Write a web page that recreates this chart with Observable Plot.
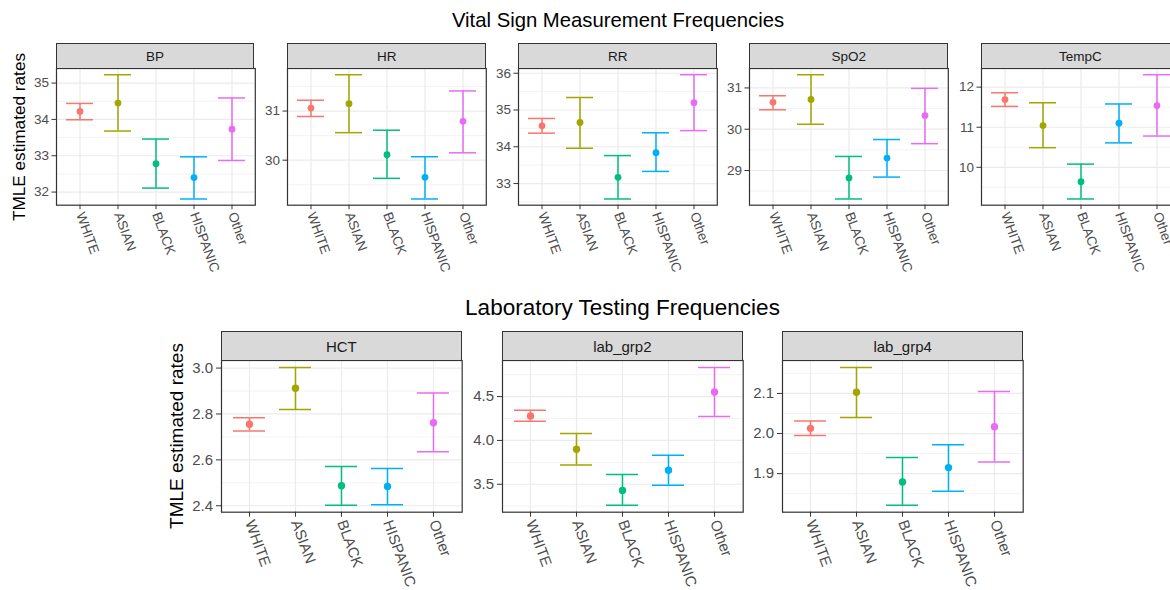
<!DOCTYPE html>
<html><head><meta charset="utf-8">
<script src="https://cdn.jsdelivr.net/npm/d3@7"></script>
<script src="https://cdn.jsdelivr.net/npm/@observablehq/plot@0.6"></script>
<style>
body{margin:0;background:#fff;}
#root{position:relative;width:1170px;height:590px;overflow:hidden;background:#fff;font-family:"Liberation Sans",Arial,Helvetica,sans-serif;}
.strip{position:absolute;box-sizing:border-box;background:#D9D9D9;border:1.2px solid #333;display:flex;align-items:center;justify-content:center;color:#1A1A1A;}
.ttl{position:absolute;color:#000;white-space:nowrap;}
</style></head><body><div id="root"></div>
<script>
// ---- data ----
const races = ["WHITE", "ASIAN", "BLACK", "HISPANIC", "Other"];
const raceColors = ["#F8766D", "#A3A500", "#00BF7D", "#00B0F6", "#E76BF3"];

const vitalNames = ["BP", "HR", "RR", "SpO2", "TempC"];
const labNames = ["HCT", "lab_grp2", "lab_grp4"];

const bpEst = [34.22, 34.45, 32.78, 32.40, 33.73];
const bpLo  = [33.99, 33.68, 32.11, 31.81, 32.87];
const bpHi  = [34.44, 35.23, 33.46, 32.97, 34.59];
const bpTicks = [32, 33, 34, 35];

const hrEst = [31.06, 31.15, 30.11, 29.65, 30.79];
const hrLo  = [30.89, 30.56, 29.63, 29.21, 30.15];
const hrHi  = [31.22, 31.74, 30.61, 30.07, 31.41];
const hrTicks = [30, 31];

const rrEst = [34.57, 34.66, 33.17, 33.84, 35.20];
const rrLo  = [34.37, 33.96, 32.58, 33.33, 34.44];
const rrHi  = [34.77, 35.34, 33.76, 34.38, 35.96];
const rrTicks = [33, 34, 35, 36];

const spo2Est = [30.65, 30.72, 28.82, 29.30, 30.33];
const spo2Lo  = [30.47, 30.12, 28.31, 28.84, 29.65];
const spo2Hi  = [30.81, 31.32, 29.34, 29.75, 30.99];
const spo2Ticks = [29, 30, 31];

const tempEst = [11.69, 11.04, 9.64, 11.10, 11.54];
const tempLo  = [11.52, 10.49, 9.21, 10.61, 10.78];
const tempHi  = [11.86, 11.61, 10.08, 11.58, 12.31];
const tempTicks = [10, 11, 12];

const hctEst = [2.755, 2.912, 2.487, 2.484, 2.762];
const hctLo  = [2.726, 2.819, 2.402, 2.404, 2.635];
const hctHi  = [2.784, 3.003, 2.571, 2.562, 2.891];
const hctTicks = [2.4, 2.6, 2.8, 3.0];

const lab2Est = [4.28, 3.90, 3.43, 3.66, 4.553];
const lab2Lo  = [4.22, 3.72, 3.26, 3.49, 4.273];
const lab2Hi  = [4.344, 4.08, 3.61, 3.83, 4.833];
const lab2Ticks = [3.5, 4.0, 4.5];

const lab4Est = [2.013, 2.103, 1.879, 1.915, 2.017];
const lab4Lo  = [1.995, 2.040, 1.821, 1.856, 1.929];
const lab4Hi  = [2.031, 2.165, 1.940, 1.972, 2.105];
const lab4Ticks = [1.9, 2.0, 2.1];

const vitalTitle = "Vital Sign Measurement Frequencies";
const labTitle = "Laboratory Testing Frequencies";
const yTitle = "TMLE estimated rates";

// ---- drawing ----
const root = document.getElementById("root");

function addText(txt, css) {
  const d = document.createElement("div");
  d.className = "ttl";
  d.textContent = txt;
  Object.assign(d.style, css);
  root.append(d);
  return d;
}

function panel(cfg) {
  const {name, est, lo, hi, ticks, fmt, x0, y0, w, h, stripH, fs, r, tickLen, tickPad} = cfg;
  const data = races.map((race, i) => ({race, est: est[i], lo: lo[i], hi: hi[i]}));
  const mn = d3.min(lo), mx = d3.max(hi), pad = (mx - mn) * 0.05;
  const domain = [mn - pad, mx + pad];
  const step = ticks[1] - ticks[0];
  const minor = [ticks[0] - step / 2, ...ticks.map(t => t + step / 2)].filter(v => v > domain[0] && v < domain[1]);
  const ML = 60, MR = 10, MT = 10, MB = 120;
  const svg = Plot.plot({
    width: ML + w + MR, height: MT + h + MB,
    marginLeft: ML, marginRight: MR, marginTop: MT, marginBottom: MB,
    style: {fontFamily: '"Liberation Sans", Arial, Helvetica, sans-serif', fontSize: fs + "px", background: "transparent", overflow: "visible", color: "#4D4D4D"},
    x: {type: "band", domain: races, paddingInner: 0.3, paddingOuter: 0.25, align: 0.5},
    y: {domain},
    color: {domain: races, range: raceColors},
    marks: [
      Plot.ruleY(minor, {stroke: "#EBEBEB", strokeWidth: 0.6}),
      Plot.ruleY(ticks, {stroke: "#EBEBEB", strokeWidth: 1.2}),
      Plot.ruleX(races, {x: d => d, stroke: "#EBEBEB", strokeWidth: 1.2}),
      Plot.ruleX(data, {x: "race", y1: "lo", y2: "hi", stroke: "race", strokeWidth: 1.5}),
      Plot.tickY(data, {x: "race", y: "lo", stroke: "race", strokeWidth: 1.5}),
      Plot.tickY(data, {x: "race", y: "hi", stroke: "race", strokeWidth: 1.5}),
      Plot.dot(data, {x: "race", y: "est", fill: "race", r}),
      Plot.frame({stroke: "#333", strokeWidth: 1.2}),
      Plot.axisY({ticks, tickFormat: fmt, tickSize: tickLen, tickPadding: tickPad, stroke: "#333", fill: "#4D4D4D", label: null}),
      Plot.axisX({tickRotate: 70, tickSize: tickLen, tickPadding: tickPad, stroke: "#333", fill: "#4D4D4D", label: null})
    ]
  });
  svg.style.position = "absolute";
  svg.style.left = (x0 - ML) + "px";
  svg.style.top = (y0 - MT) + "px";
  root.append(svg);
  const s = document.createElement("div");
  s.className = "strip";
  s.textContent = name;
  Object.assign(s.style, {left: x0 + "px", top: (y0 - stripH) + "px", width: w + "px", height: (stripH + 1) + "px", fontSize: fs + "px"});
  root.append(s);
}

const intFmt = d3.format("d");
const dec1 = d3.format(".1f");

// top row
const topX = [55.5, 287.3, 518.3, 749.3, 981];
const topSets = [
  [bpEst, bpLo, bpHi, bpTicks],
  [hrEst, hrLo, hrHi, hrTicks],
  [rrEst, rrLo, rrHi, rrTicks],
  [spo2Est, spo2Lo, spo2Hi, spo2Ticks],
  [tempEst, tempLo, tempHi, tempTicks]
];
vitalNames.forEach((name, i) => {
  const [est, lo, hi, ticks] = topSets[i];
  panel({name, est, lo, hi, ticks, fmt: intFmt, x0: topX[i], y0: 68.3, w: 198.8, h: 136.7, stripH: 25, fs: 13.5, r: 3.4, tickLen: 4.5, tickPad: 3});
});

// bottom row
const botX = [221, 502, 782.3];
const botSets = [
  [hctEst, hctLo, hctHi, hctTicks],
  [lab2Est, lab2Lo, lab2Hi, lab2Ticks],
  [lab4Est, lab4Lo, lab4Hi, lab4Ticks]
];
labNames.forEach((name, i) => {
  const [est, lo, hi, ticks] = botSets[i];
  panel({name, est, lo, hi, ticks, fmt: dec1, x0: botX[i], y0: 360, w: 240.7, h: 151.7, stripH: 29, fs: 15, r: 3.7, tickLen: 5, tickPad: 3.5});
});

// titles
addText(vitalTitle, {left: "618px", top: "8px", fontSize: "20.3px", lineHeight: "24px", transform: "translateX(-50%)"});
addText(labTitle, {left: "622.5px", top: "294px", fontSize: "22.5px", lineHeight: "27px", transform: "translateX(-50%)"});
addText(yTitle, {left: "18.5px", top: "136.5px", fontSize: "17.2px", lineHeight: "20px", transform: "translate(-50%,-50%) rotate(-90deg)"});
addText(yTitle, {left: "176.5px", top: "436px", fontSize: "19px", lineHeight: "22px", transform: "translate(-50%,-50%) rotate(-90deg)"});
</script>
</body></html>
